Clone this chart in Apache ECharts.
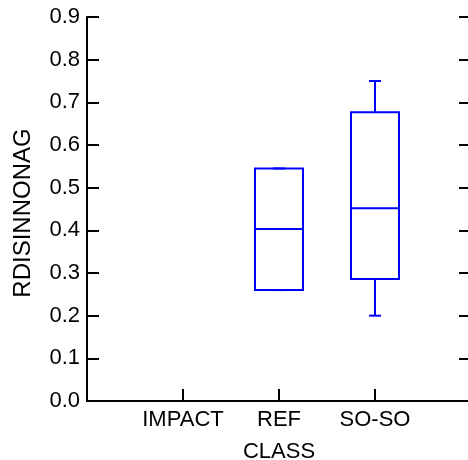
<!DOCTYPE html>
<html>
<head>
<meta charset="utf-8">
<script src="https://cdn.jsdelivr.net/npm/echarts@6/dist/echarts.min.js"></script>
<style>
  html, body { margin: 0; padding: 0; background: #fff; }
  #chart { width: 468px; height: 460px; }
</style>
</head>
<body>
<div id="chart"></div>
<script>
// box plot values per class (IMPACT has no box)
const categories = ['IMPACT', 'REF', 'SO-SO']
const lowWhisker = [null, 0.26, 0.20]
const lowerQuartile = [null, 0.26, 0.286]
const medians = [null, 0.403, 0.452]
const upperQuartile = [null, 0.545, 0.677]
const highWhisker = [null, 0.545, 0.75]
const yTicks = [0, 0.9, 0.1]

const boxData = []
categories.forEach(function(c, i) {
  if (medians[i] === null) return
  boxData.push([i + 1, lowWhisker[i], lowerQuartile[i], medians[i], upperQuartile[i], highWhisker[i]])
})

const FONT = 'Liberation Sans, Arial, sans-serif'
const BLUE = '#0000ff'

function renderBox(params, api) {
  const x = api.value(0)
  const pLow = api.coord([x, api.value(1)])
  const pQ1 = api.coord([x, api.value(2)])
  const pMed = api.coord([x, api.value(3)])
  const pQ3 = api.coord([x, api.value(4)])
  const pHigh = api.coord([x, api.value(5)])
  const half = 24
  const cap = 6
  const cx = pMed[0]
  const style = { stroke: BLUE, lineWidth: 2, fill: null }
  return {
    type: 'group',
    children: [
      { type: 'rect', shape: { x: cx - half, y: pQ3[1], width: half * 2, height: pQ1[1] - pQ3[1] }, style: style },
      { type: 'line', shape: { x1: cx - half, y1: pMed[1], x2: cx + half, y2: pMed[1] }, style: style },
      { type: 'line', shape: { x1: cx, y1: pQ3[1], x2: cx, y2: pHigh[1] }, style: style },
      { type: 'line', shape: { x1: cx, y1: pQ1[1], x2: cx, y2: pLow[1] }, style: style },
      { type: 'line', shape: { x1: cx - cap, y1: pHigh[1], x2: cx + cap, y2: pHigh[1] }, style: style },
      { type: 'line', shape: { x1: cx - cap, y1: pLow[1], x2: cx + cap, y2: pLow[1] }, style: style }
    ]
  }
}

const chart = echarts.init(document.getElementById('chart'))
chart.setOption({
  animation: false,
  grid: { left: 87, top: 17, right: -3, bottom: 59, outerBoundsMode: 'none', containLabel: false },
  xAxis: [
    {
      type: 'category',
      data: [''].concat(categories).concat(['']),
      boundaryGap: false,
      name: 'CLASS',
      nameLocation: 'middle',
      nameGap: 40,
      nameTextStyle: { fontFamily: FONT, fontSize: 22, color: '#000' },
      axisLine: { lineStyle: { color: '#000', width: 2 } },
      axisTick: {
        inside: true,
        length: 12,
        interval: function(index) { return index > 0 && index <= categories.length },
        lineStyle: { color: '#000', width: 2 }
      },
      axisLabel: {
        interval: 0,
        margin: 8,
        fontFamily: FONT,
        fontSize: 22,
        color: '#000'
      },
      splitLine: { show: false }
    },
    {
      type: 'category',
      position: 'top',
      data: [''].concat(categories).concat(['']),
      boundaryGap: false,
      axisLine: { lineStyle: { color: '#000', width: 2 } },
      axisTick: { show: false },
      axisLabel: { show: false },
      splitLine: { show: false }
    }
  ],
  yAxis: [
    {
      type: 'value',
      min: yTicks[0],
      max: yTicks[1],
      interval: yTicks[2],
      name: 'RDISINNONAG',
      nameLocation: 'middle',
      nameGap: 52,
      nameTextStyle: { fontFamily: FONT, fontSize: 24, color: '#000', padding: [0, 8, 0, 0] },
      axisLine: { show: true, lineStyle: { color: '#000', width: 2 } },
      axisTick: { show: true, inside: true, length: 12, lineStyle: { color: '#000', width: 2 } },
      axisLabel: {
        margin: 7,
        fontFamily: FONT,
        fontSize: 22,
        color: '#000',
        formatter: function(v) { return v.toFixed(1) }
      },
      splitLine: { show: false }
    },
    {
      type: 'value',
      position: 'right',
      min: yTicks[0],
      max: yTicks[1],
      interval: yTicks[2],
      axisLine: { show: true, lineStyle: { color: '#000', width: 2 } },
      axisTick: { show: true, inside: true, length: 12, lineStyle: { color: '#000', width: 2 } },
      axisLabel: { show: false },
      splitLine: { show: false }
    }
  ],
  series: [
    {
      type: 'custom',
      renderItem: renderBox,
      data: boxData,
      encode: { x: 0, y: [1, 2, 3, 4, 5] },
      clip: false
    }
  ]
})
</script>
</body>
</html>
